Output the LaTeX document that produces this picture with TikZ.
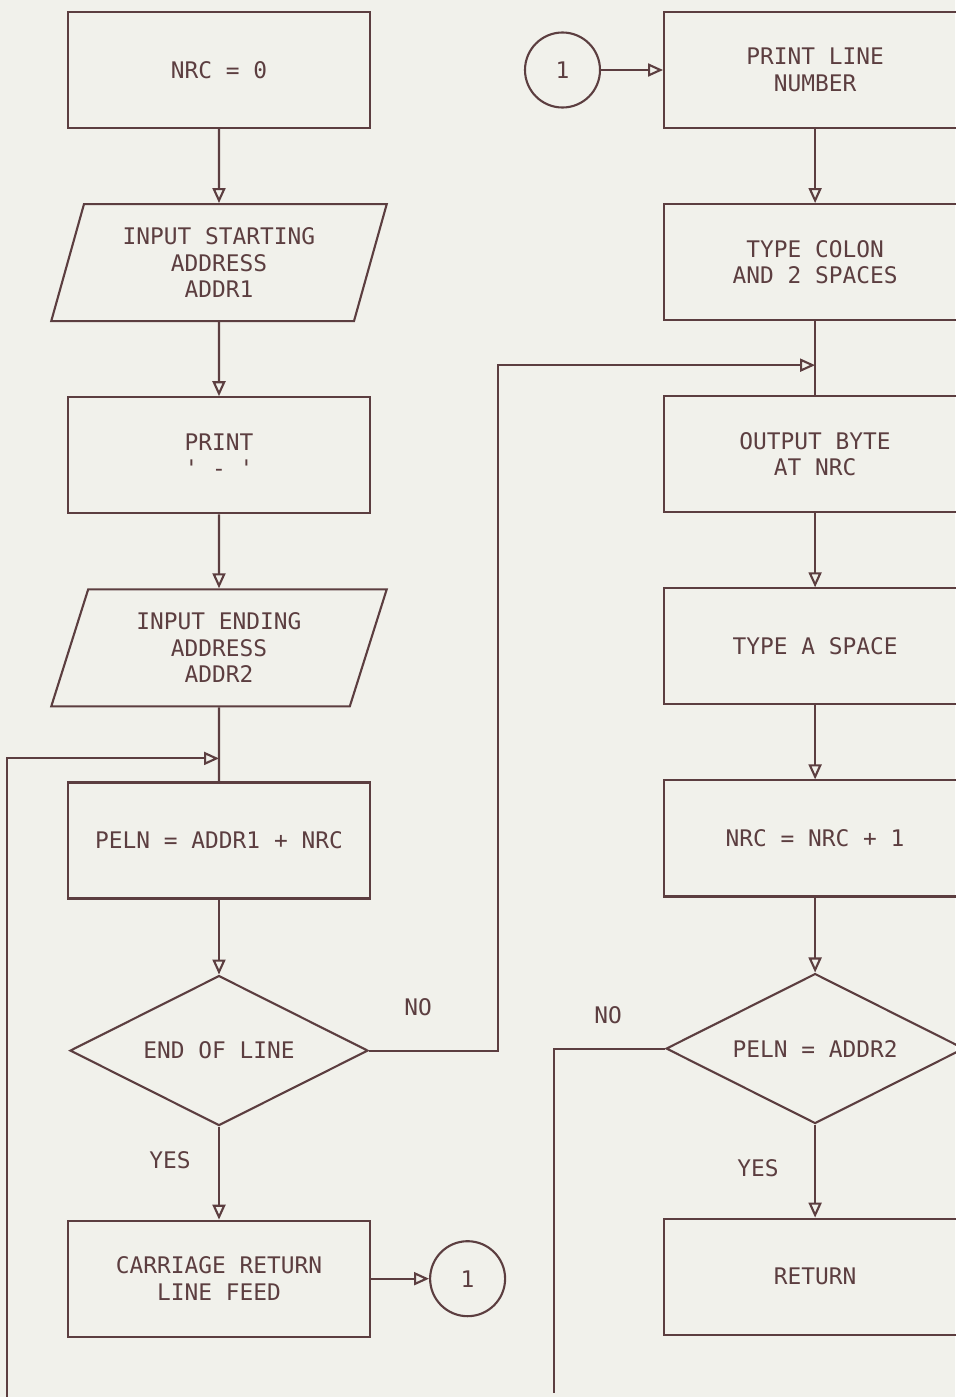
\documentclass[tikz,border=0pt]{standalone}
\usepackage{fontspec}
\newfontfamily\plotfont{DejaVu Sans Mono}
\usepackage{xcolor}
\usepackage{tikz}
\usetikzlibrary{positioning,arrows.meta,shapes.geometric}
\definecolor{ink}{RGB}{92,62,64}
\definecolor{paper}{RGB}{241,241,235}

\begin{document}
\begin{tikzpicture}[
  font=\plotfont\fontsize{13}{15}\selectfont,
  box/.style={draw=ink, text=ink, line width=1.2pt, align=center, minimum width=6.04cm, minimum height=2.32cm, inner sep=2pt},
  io/.style={trapezium, trapezium left angle=72, trapezium right angle=108, trapezium stretches=true, draw=ink, text=ink, line width=1.2pt, align=center, minimum width=6.72cm, minimum height=2.34cm, inner sep=1pt},
  test/.style={diamond, aspect=2, draw=ink, text=ink, line width=1.2pt, minimum width=5.96cm, minimum height=3cm, inner sep=0pt},
  conn/.style={circle, draw=ink, text=ink, line width=1.2pt, minimum size=1.5cm},
  lbl/.style={text=ink},
  wire/.style={draw=ink, line width=1.2pt},
  arr/.style={wire, -{Triangle[open, length=3mm, width=2.6mm]}},
  node distance=1.48cm]
\fill[paper] (0,0) rectangle (19.1,-27.94);
\useasboundingbox (0,0) rectangle (19.1,-27.94);
% left column
\node[box] (nrc) at (4.38,-1.40) {NRC = 0};
\node[io, below=of nrc] (addr1) {INPUT STARTING\\ADDRESS\\ADDR1};
\node[box, below=of addr1] (prt) {PRINT\\\textquotesingle{} - \textquotesingle};
\node[io, below=of prt] (addr2) {INPUT ENDING\\ADDRESS\\ADDR2};
\node[box, below=of addr2] (peln) {PELN = ADDR1 + NRC};
\node[test, below=1.5cm of peln] (eol) {END OF LINE};
\node[box, below=1.86cm of eol] (crlf) {CARRIAGE RETURN\\LINE FEED};
\node[conn, right=1.16cm of crlf] (out1) {1};
% right column
\node[box, right=5.84cm of nrc] (num) {PRINT LINE\\NUMBER};
\node[conn, left=1.24cm of num] (in1) {1};
\node[box, below=of num] (colon) {TYPE COLON\\AND 2 SPACES};
\node[box, below=of colon] (byte) {OUTPUT BYTE\\AT NRC};
\node[box, below=of byte] (space) {TYPE A SPACE};
\node[box, below=of space] (incr) {NRC = NRC + 1};
\node[test, below=1.5cm of incr] (last) {PELN = ADDR2};
\node[box, below=1.86cm of last] (ret) {RETURN};
% branch labels
\node[lbl] (no1) at (8.36,-20.14) {NO};
\node[lbl] (no2) at (12.16,-20.30) {NO};
\node[lbl] (yes1) at (3.40,-23.20) {YES};
\node[lbl] (yes2) at (15.16,-23.36) {YES};
% joins and loose ends
\coordinate[below=1.02cm of addr2.south] (join1);
\coordinate[below=0.88cm of colon.south] (join2);
\coordinate (lend) at (0.14,-27.94);
\coordinate (rend) at (11.08,-27.86);
\foreach \a/\b in {nrc/addr1, addr1/prt, prt/addr2, peln/eol, eol/crlf, crlf/out1, in1/num, num/colon, byte/space, space/incr, incr/last, last/ret} \draw[arr] (\a) -- (\b);
\draw[wire] (addr2) -- (peln);
\draw[wire] (colon) -- (byte);
\draw[arr] (lend) |- (join1);
\draw[arr] (eol.east) -- ++(2.58,0) |- (join2);
\draw[wire] (last.west) -| (rend);
\end{tikzpicture}
\end{document}
